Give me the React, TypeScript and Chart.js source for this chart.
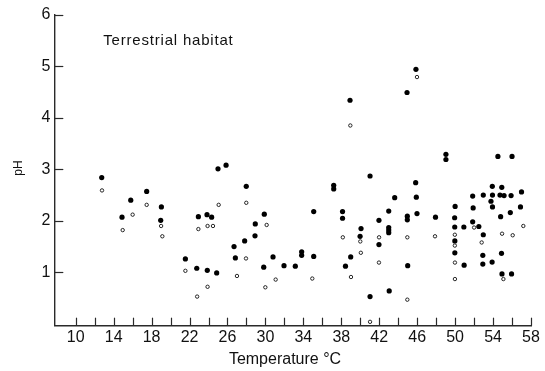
import React, { useEffect, useRef } from "react";
import { Chart, registerables } from "chart.js";

Chart.register(...registerables);

// Filled circles (x = temperature °C, y = pH)
const filledX = [
  12.74, 14.88, 15.8, 17.48, 19.03, 18.96, 21.56, 22.76, 22.93, 23.84,
  24.33, 23.87, 24.86, 25.0, 25.85, 26.69, 26.83, 27.98, 29.88, 28.93,
  28.9, 27.81, 29.82, 30.8, 31.96, 33.15, 33.82, 33.82, 35.09, 35.09,
  37.2, 37.2, 38.13, 38.13, 38.99, 38.44, 41.03, 40.08, 39.98, 41.03,
  41.97, 41.97, 45.87, 44.93, 38.92, 49.03, 49.03, 54.51, 56.0, 45.84,
  45.91, 43.63, 43.0, 45.98, 44.96, 44.96, 47.93, 43.0, 43.0, 43.0,
  45.0, 43.05, 50.0, 49.95, 49.96, 50.92, 49.97, 49.97, 50.95, 51.9,
  51.85, 51.85, 52.5, 52.97, 52.92, 52.92, 52.97, 53.92, 53.94, 53.78,
  53.94, 53.9, 54.92, 54.73, 55.16, 55.9, 54.8, 55.82, 54.89, 54.94,
  55.95, 57.0, 56.89,
];
const filledY = [
  2.84, 2.07, 2.40, 2.57, 2.27, 2.01, 1.26, 1.08, 2.08, 2.12,
  2.07, 1.04, 0.99, 3.01, 3.08, 1.50, 1.28, 2.67, 2.13, 1.94,
  1.71, 1.61, 1.10, 1.30, 1.13, 1.12, 1.40, 1.33, 2.18, 1.31,
  2.69, 2.62, 2.18, 2.05, 1.30, 1.12, 2.87, 1.85, 1.70, 0.53,
  2.01, 1.54, 4.94, 4.49, 4.34, 3.29, 3.19, 3.25, 3.25, 2.74,
  2.46, 2.45, 2.19, 2.14, 2.09, 2.02, 2.07, 1.87, 1.82, 1.77,
  1.13, 0.64, 2.28, 2.06, 1.88, 1.88, 1.61, 1.38, 1.14, 2.25,
  2.48, 1.98, 1.89, 1.73, 1.33, 1.16, 2.50, 2.67, 2.50, 2.38,
  2.27, 1.20, 2.65, 2.50, 2.49, 2.49, 2.08, 2.16, 1.37, 0.97,
  0.97, 2.56, 2.27,
];

// Open circles
const openX = [
  12.77, 14.95, 16.0, 17.48, 19.0, 19.13, 21.56, 22.8, 22.93, 23.9,
  24.47, 23.9, 25.07, 27.0, 27.98, 30.13, 27.95, 29.99, 31.08, 34.94,
  38.16, 39.02, 40.0, 40.06, 41.98, 41.97, 45.98, 38.95, 44.96, 47.88,
  44.96, 41.03, 49.97, 49.97, 49.98, 49.98, 52.0, 52.8, 54.95, 56.07,
  55.09, 57.19,
];
const openY = [
  2.59, 1.82, 2.12, 2.31, 1.90, 1.70, 1.03, 0.53, 1.84, 1.90,
  1.90, 0.72, 2.31, 0.93, 2.35, 1.92, 1.27, 0.71, 0.86, 0.88,
  1.68, 0.91, 1.60, 1.38, 1.68, 1.19, 4.79, 3.85, 1.68, 1.70,
  0.47, 0.04, 1.73, 1.52, 1.19, 0.87, 1.87, 1.58, 1.75, 1.72,
  0.87, 1.90,
];

const xTickValues = [10, 12, 14, 16, 18, 20, 22, 24, 26, 28, 30, 32, 34, 36, 38, 40, 42, 44, 46, 48, 50, 52, 54, 56, 58];
const xTickLabels = ["10", "", "14", "", "18", "", "22", "", "26", "", "30", "", "34", "", "38", "", "42", "", "46", "", "50", "", "54", "", "58"];
const yTickValues = [1, 2, 3, 4, 5, 6];
const yTickLabels = ["1", "2", "3", "4", "5", "6"];

const chartTitle = "Terrestrial habitat";
const xAxisTitle = "Temperature °C";
const yAxisTitle = "pH";

const FONT = '"Liberation Sans", Arial, Helvetica, sans-serif';

const decorPlugin = {
  id: "decor",
  afterDraw(chart: any) {
    const { ctx, chartArea } = chart;
    const xs = chart.scales.x;
    const ys = chart.scales.y;
    ctx.save();
    ctx.strokeStyle = "#2a2a2a";
    ctx.lineWidth = 1.2;
    xTickValues.forEach((v) => {
      const px = Math.round(xs.getPixelForValue(v)) + 0.5;
      ctx.beginPath();
      ctx.moveTo(px, chartArea.bottom);
      ctx.lineTo(px, chartArea.bottom - 8);
      ctx.stroke();
    });
    yTickValues.forEach((v) => {
      const py = Math.round(ys.getPixelForValue(v)) + 0.5;
      ctx.beginPath();
      ctx.moveTo(chartArea.left, py);
      ctx.lineTo(chartArea.left + 9, py);
      ctx.stroke();
    });

    ctx.fillStyle = "#111";
    // chart label inside plot
    ctx.font = `15px ${FONT}`;
    try { (ctx as any).letterSpacing = "0.8px"; } catch (e) {}
    ctx.textAlign = "left";
    ctx.textBaseline = "middle";
    ctx.fillText(chartTitle, chartArea.left + 49, chartArea.top + 26);
    try { (ctx as any).letterSpacing = "0px"; } catch (e) {}

    // x axis title
    ctx.font = `16px ${FONT}`;
    ctx.textAlign = "center";
    ctx.fillText(xAxisTitle, 285, 360);

    // y axis title
    ctx.save();
    ctx.translate(19, 168);
    ctx.rotate(-Math.PI / 2);
    ctx.font = `12px ${FONT}`;
    ctx.textAlign = "center";
    ctx.textBaseline = "middle";
    ctx.fillText(yAxisTitle, 0, 0);
    ctx.restore();

    ctx.restore();
  },
};

export default function App() {
  const ref = useRef<HTMLCanvasElement | null>(null);

  useEffect(() => {
    if (!ref.current) return;
    const filled = filledX.map((x, i) => ({ x, y: filledY[i] }));
    const open = openX.map((x, i) => ({ x, y: openY[i] }));
    const chart = new Chart(ref.current, {
      type: "scatter",
      data: {
        datasets: [
          {
            label: "open",
            data: open,
            pointRadius: 1.7,
            pointBorderWidth: 0.9,
            pointBackgroundColor: "#ffffff",
            pointBorderColor: "#111",
          },
          {
            label: "filled",
            data: filled,
            pointRadius: 2.6,
            pointBorderWidth: 0,
            pointBackgroundColor: "#000",
            pointBorderColor: "#000",
          },
        ],
      },
      options: {
        responsive: false,
        animation: false,
        devicePixelRatio: 1,
        layout: { padding: { top: 14.7, right: 14, left: 0, bottom: 0 } },
        plugins: {
          legend: { display: false },
          tooltip: { enabled: false },
          title: { display: false },
        },
        scales: {
          x: {
            type: "linear",
            min: 7.74,
            max: 58,
            grid: { display: false, drawTicks: false },
            border: { display: true, color: "#2a2a2a", width: 1.4 },
            afterBuildTicks: (scale: any) => {
              scale.ticks = xTickValues.map((v) => ({ value: v }));
            },
            afterFit: (scale: any) => {
              scale.height = 45.3;
            },
            ticks: {
              autoSkip: false,
              maxRotation: 0,
              minRotation: 0,
              padding: 2,
              color: "#111",
              font: { family: FONT, size: 16 },
              callback: (v: any) => {
                const i = xTickValues.indexOf(Number(v));
                return i >= 0 ? xTickLabels[i] : "";
              },
            },
          },
          y: {
            type: "linear",
            min: -0.035,
            max: 6,
            grid: { display: false, drawTicks: false },
            border: { display: true, color: "#2a2a2a", width: 1.4 },
            afterBuildTicks: (scale: any) => {
              scale.ticks = yTickValues.map((v) => ({ value: v }));
            },
            afterFit: (scale: any) => {
              scale.width = 54.3;
            },
            ticks: {
              padding: 4,
              color: "#111",
              font: { family: FONT, size: 16 },
              callback: (v: any) => {
                const i = yTickValues.indexOf(Number(v));
                return i >= 0 ? yTickLabels[i] : "";
              },
            },
          },
        },
      },
      plugins: [decorPlugin],
    });
    return () => chart.destroy();
  }, []);

  return (
    <div style={{ position: "absolute", left: 0, top: 0, width: 545, height: 371, background: "#fff" }}>
      <canvas ref={ref} width={545} height={371} style={{ display: "block", width: 545, height: 371 }} />
    </div>
  );
}
